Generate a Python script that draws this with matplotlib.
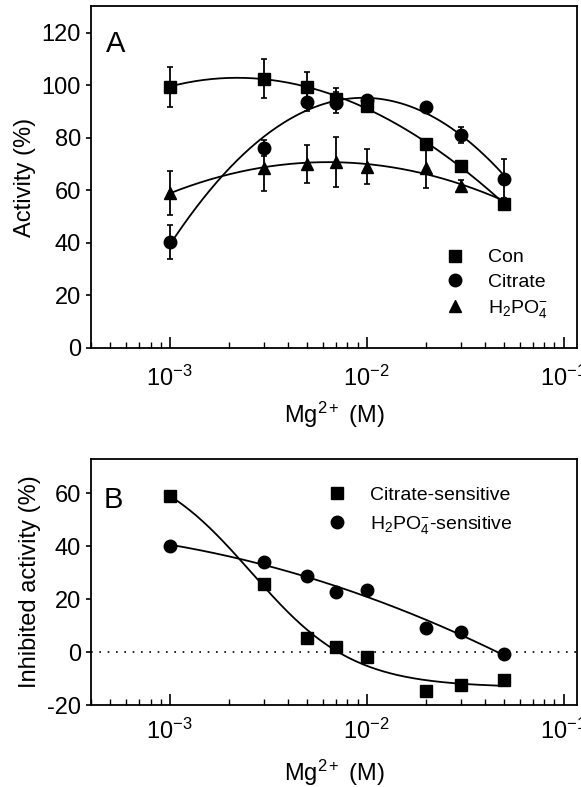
import matplotlib

matplotlib.use("Agg")
import matplotlib.pyplot as plt  # noqa: E402
import numpy as np  # noqa: E402
from matplotlib.ticker import LogLocator, NullFormatter  # noqa: E402

mg = np.array([1e-3, 3e-3, 5e-3, 7e-3, 1e-2, 2e-2, 3e-2, 5e-2])

# panel A: activity (%)
con = np.array([99.4, 102.5, 99.4, 94.8, 92.2, 77.7, 69.3, 54.8])
con_err = np.array([7.6, 7.5, 5.5, 4.0, 1.5, 1.5, 1.5, 1.0])
citrate = np.array([40.3, 76.2, 93.7, 93.3, 94.3, 91.8, 81.1, 64.4])
citrate_err = np.array([6.3, 3.0, 3.5, 4.0, 1.5, 1.0, 3.0, 7.5])
phos = np.array([59.0, 68.6, 70.0, 70.9, 69.0, 68.3, 61.7, 55.5])
phos_err = np.array([8.3, 9.0, 7.3, 9.5, 6.6, 7.3, 2.0, 1.0])

# panel B: inhibited activity (%)
cit_sens = np.array([59.0, 25.9, 5.2, 1.8, -1.8, -14.6, -12.4, -10.5])
phos_sens = np.array([40.1, 34.1, 28.9, 22.9, 23.3, 9.3, 7.5, -0.7])

FS = 17

plt.rcParams.update(
    {
        "font.family": "Liberation Sans",
        "mathtext.fontset": "custom",
        "mathtext.rm": "Liberation Sans",
        "mathtext.it": "Liberation Sans:italic",
        "mathtext.bf": "Liberation Sans:bold",
        "axes.linewidth": 1.3,
        "axes.unicode_minus": False,
        "text.color": "black",
    }
)


def poly_curve(ax, x, y, deg):
    lx = np.log10(x)
    coef = np.polyfit(lx, y, deg)
    xs = np.linspace(lx.min(), lx.max(), 200)
    ax.plot(10 ** xs, np.polyval(coef, xs), color="black", lw=1.3, zorder=2)


def sigmoid_curve(ax, x, y):
    # Boltzmann fit in log10(x): crude grid search, plateaus solved by least squares
    lx = np.log10(x)
    best = None
    for x0 in np.linspace(lx.min(), lx.max(), 120):
        for dx in np.linspace(0.05, 0.6, 80):
            s = 1.0 / (1.0 + np.exp((lx - x0) / dx))
            m = np.column_stack([s, 1 - s])
            (a1, a2), *_ = np.linalg.lstsq(m, y, rcond=None)
            err = np.sum((m @ [a1, a2] - y) ** 2)
            if best is None or err < best[0]:
                best = (err, x0, dx, a1, a2)
    _, x0, dx, a1, a2 = best
    xs = np.linspace(lx.min(), lx.max(), 200)
    ys = a2 + (a1 - a2) / (1.0 + np.exp((xs - x0) / dx))
    ax.plot(10 ** xs, ys, color="black", lw=1.3, zorder=2)


def style_axes(ax, pad):
    ax.set_xscale("log")
    ax.set_xlim(4e-4, 0.117)
    ax.set_xticks([1e-3, 1e-2, 1e-1])
    ax.set_xticklabels([r"10$^{-3}$", r"10$^{-2}$", r"10$^{-1}$"])
    ax.xaxis.set_minor_locator(LogLocator(base=10, subs=np.arange(2, 10)))
    ax.xaxis.set_minor_formatter(NullFormatter())
    ax.tick_params(axis="x", which="major", direction="in", length=8, width=1.2,
                   labelsize=FS, pad=pad, top=False)
    ax.tick_params(axis="x", which="minor", direction="in", length=4, width=1.0, top=False)
    ax.tick_params(axis="y", which="major", direction="out", length=3.5, width=1.2,
                   labelsize=FS, pad=4, right=False)


fig = plt.figure(figsize=(5.81, 7.87), dpi=100)
ax_a = fig.add_axes([0.157, 0.558, 0.836, 0.434])
ax_b = fig.add_axes([0.157, 0.104, 0.836, 0.313])

# --- panel A ---
for y, err, deg in [(con, con_err, 3), (citrate, citrate_err, 2), (phos, phos_err, 2)]:
    poly_curve(ax_a, mg, y, deg)
    ax_a.errorbar(mg, y, yerr=err, fmt="none", ecolor="black", elinewidth=1.3,
                  capsize=2.5, capthick=1.2, zorder=3)
ax_a.plot(mg, con, "s", color="black", ms=8, label="Con", zorder=4)
ax_a.plot(mg, citrate, "o", color="black", ms=9, label="Citrate", zorder=4)
ax_a.plot(mg, phos, "^", color="black", ms=9, label=r"H$_2$PO$_4^{-}$", zorder=4)

style_axes(ax_a, pad=13)
ax_a.set_xlabel(r"Mg$^{2+}$ (M)", fontsize=FS, labelpad=6)
ax_a.set_ylim(0, 130)
ax_a.set_yticks(np.arange(0, 121, 20))
ax_a.set_ylabel("Activity (%)", fontsize=FS, labelpad=4)
ax_a.text(0.03, 0.865, "A", transform=ax_a.transAxes, fontsize=21)
ax_a.legend(loc="upper left", bbox_to_anchor=(0.728, 0.29), frameon=False,
            fontsize=14, handlelength=1.0, handletextpad=1.2, labelspacing=0.35,
            borderpad=0, borderaxespad=0, numpoints=1)

# --- panel B ---
sigmoid_curve(ax_b, mg, cit_sens)
poly_curve(ax_b, mg, phos_sens, 2)
ax_b.axhline(0, color="black", lw=1.2, ls=(0, (1, 4)), zorder=1)
ax_b.plot(mg, cit_sens, "s", color="black", ms=8, label="Citrate-sensitive", zorder=4)
ax_b.plot(mg, phos_sens, "o", color="black", ms=9,
          label=r"H$_2$PO$_4^{-}$-sensitive", zorder=4)

style_axes(ax_b, pad=10)
ax_b.set_xlabel(r"Mg$^{2+}$ (M)", fontsize=FS, labelpad=10)
ax_b.set_ylim(-20, 73)
ax_b.set_yticks(np.arange(-20, 61, 20))
ax_b.set_ylabel("Inhibited activity (%)", fontsize=FS, labelpad=4)
ax_b.text(0.025, 0.80, "B", transform=ax_b.transAxes, fontsize=21)
ax_b.legend(loc="upper left", bbox_to_anchor=(0.486, 0.89), frameon=False,
            fontsize=14, handlelength=1.0, handletextpad=1.2, labelspacing=0.55,
            borderpad=0, borderaxespad=0, numpoints=1)

fig.savefig("out.png", dpi=100)
